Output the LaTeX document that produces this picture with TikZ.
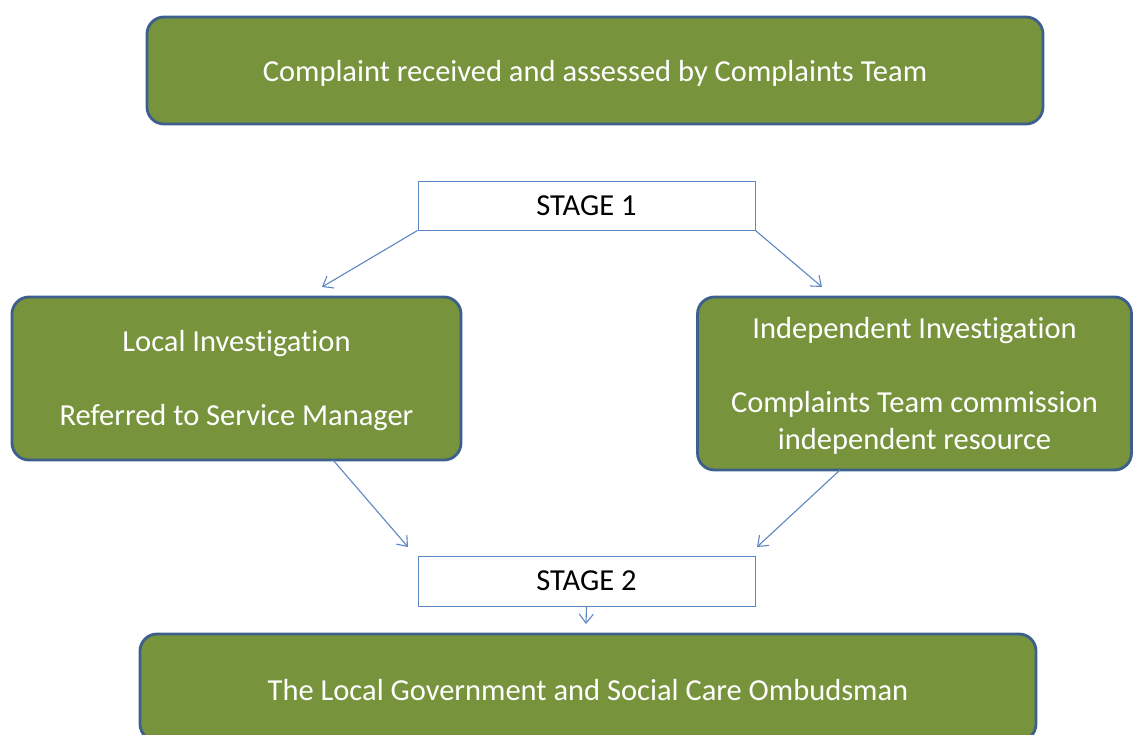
\documentclass[tikz,border=0pt]{standalone}
\usepackage{fontspec}
\setmainfont{Carlito}[Ligatures=NoCommon]
\usetikzlibrary{arrows.meta}
\definecolor{boxgreen}{HTML}{77933C}
\definecolor{boxedge}{HTML}{3C5F8C}
\definecolor{linkblue}{HTML}{5B87C2}
\begin{document}
\begin{tikzpicture}[x=1pt,y=-1pt,
  greenbox/.style={draw=boxedge, line width=2.8pt, fill=boxgreen, rounded corners=17pt, inner sep=0pt},
  boxtext/.style={text=white, font=\fontsize{30.5}{37}\selectfont, align=center, inner sep=0pt, yshift=-2.5pt},
  stagebox/.style={draw=linkblue, line width=1pt, fill=white, inner sep=0pt,
    font=\fontsize{30.5}{36}\selectfont, text=black},
  link/.style={draw=linkblue, line width=1.1pt, -{Straight Barb[length=9pt,width=14pt,line width=1.1pt]}}]
\useasboundingbox (0,0) rectangle (1133,734);
\clip (0,0) rectangle (1133,734);

% process boxes
\node[greenbox, minimum width=896pt, minimum height=107pt] (recv) at (595,70.5) {};
\node[greenbox, minimum width=449pt, minimum height=163pt] (local) at (236.5,378.5) {};
\node[greenbox, minimum width=434pt, minimum height=173pt] (indep) at (914.5,383.5) {};
\node[greenbox, minimum width=896pt, minimum height=107pt] (ombud) at (588,687.5) {};

% their texts
\node[boxtext] (recvText) at (recv.center) {Complaint received and assessed by Complaints Team};
\node[boxtext] (localText) at (local.center) {Local Investigation\\[37pt]Referred to Service Manager};
\node[boxtext] (indepText) at (indep.center)
  {Independent Investigation\\[37pt]Complaints Team commission\\independent resource};
\node[boxtext] (ombudText) at (ombud.center) {The Local Government and Social Care Ombudsman};

% stage labels
\node[stagebox, minimum width=337pt, minimum height=49pt] (s1) at (586.5,205.5) {STAGE 1};
\node[stagebox, minimum width=337pt, minimum height=50pt] (s2) at (586.5,581) {STAGE 2};

% arrow end points
\coordinate (toLocal) at (322,287);
\coordinate (toIndep) at (822,287);
\coordinate (fromLocal) at (333,460);
\coordinate (fromIndep) at (840,470);
\coordinate (inS2L) at (408,547);
\coordinate (inS2R) at (757,547);
\coordinate (toOmbud) at (586,624);

\draw[link] (s1.south west) -- (toLocal);
\draw[link] (s1.south east) -- (toIndep);
\draw[link] (fromLocal) -- (inS2L);
\draw[link] (fromIndep) -- (inS2R);
\draw[link] (s2.south) -- (toOmbud);
\end{tikzpicture}
\end{document}
